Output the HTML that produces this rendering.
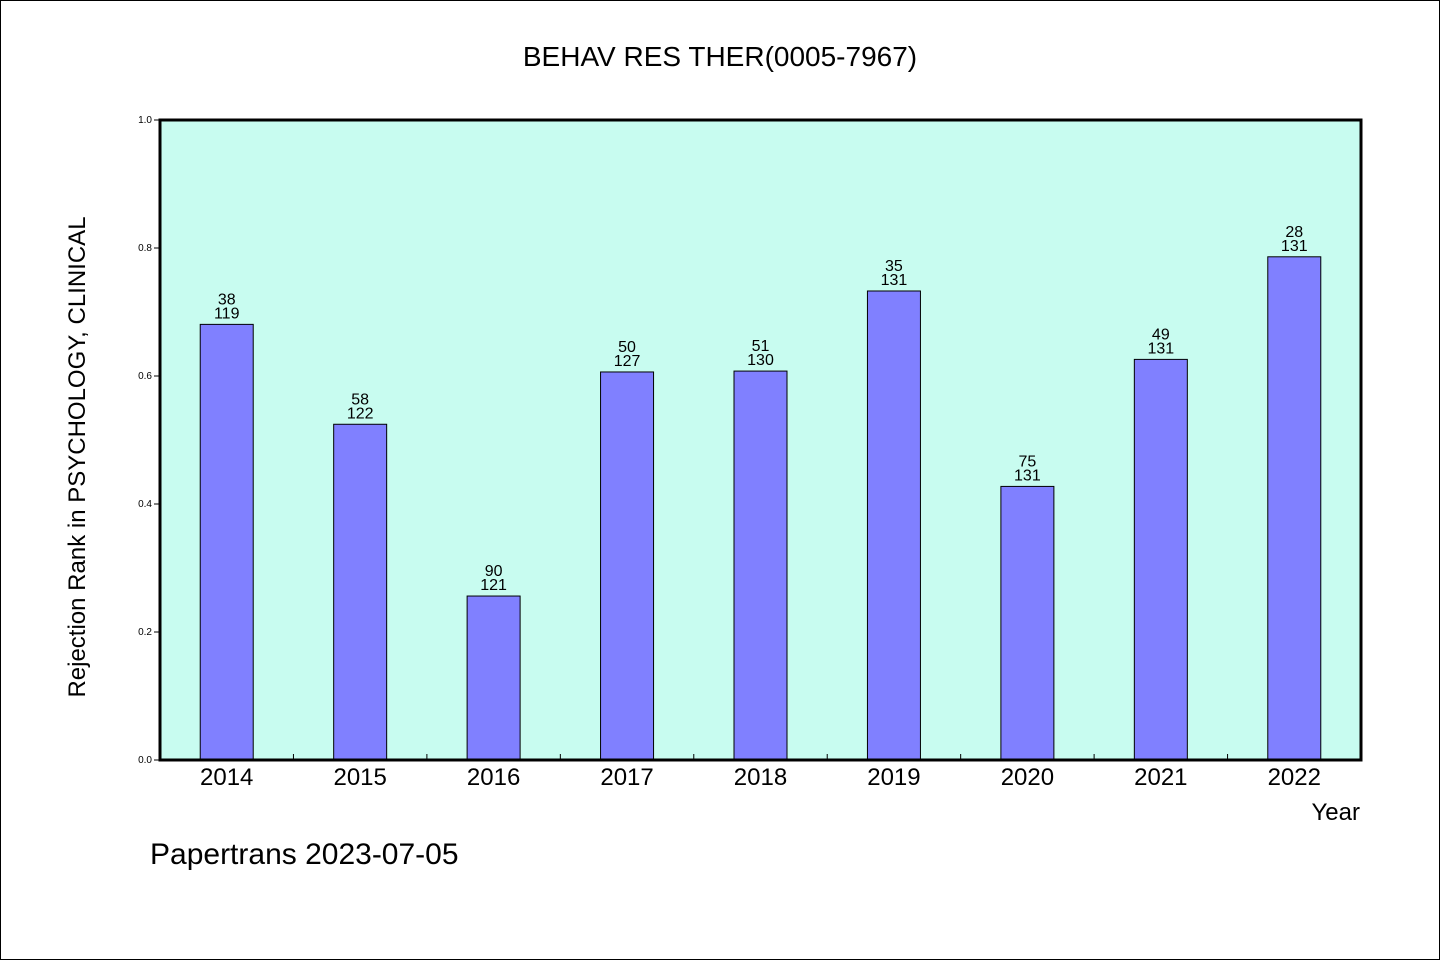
<!DOCTYPE html>
<html><head><meta charset="utf-8"><style>
body{margin:0;background:#fff}
svg{display:block}
text{font-family:"WenQuanYi Zen Hei","Liberation Sans",sans-serif;fill:#000}
</style></head><body>
<svg id="c" width="1440" height="960">
<rect x="0.5" y="0.5" width="1439" height="959" fill="#fff" stroke="#000"/>
<text x="720" y="66" text-anchor="middle" font-size="28">BEHAV RES THER(0005-7967)</text>
<rect x="160" y="120" width="1201" height="640" fill="#c8fcf0"/>
<g id="bars"></g>
<rect x="160" y="120" width="1201" height="640" fill="none" stroke="#000" stroke-width="3"/>
<text transform="translate(85,457) rotate(-90)" text-anchor="middle" font-size="24">Rejection Rank in PSYCHOLOGY, CLINICAL</text>
<text x="1360" y="820" text-anchor="end" font-size="24">Year</text>
<text x="150" y="864" font-size="30">Papertrans 2023-07-05</text>
</svg>
<script>
const years=["2014","2015","2016","2017","2018","2019","2020","2021","2022"];
const ranks=[38,58,90,50,51,35,75,49,28];
const totals=[119,122,121,127,130,131,131,131,131];
const yTicks=["0.0","0.2","0.4","0.6","0.8","1.0"];
const L=160,R=1361,T=120,B=760;
const band=(R-L)/years.length;
const xC=i=>L+band*(i+0.5);
const y=v=>B-(B-T)*v;
const ns="http://www.w3.org/2000/svg";
const svg=document.getElementById('c'),g=document.getElementById('bars');
function mk(t,a,p){const e=document.createElementNS(ns,t);for(const k in a)e.setAttribute(k,a[k]);(p||svg).appendChild(e);return e;}
yTicks.forEach(t=>{const v=parseFloat(t);
 const l=mk('line',{x1:L-6,x2:L,y1:y(v),y2:y(v),stroke:'#000'});
 
 
 const tx=mk('text',{x:L-8,y:y(v)+3,'text-anchor':'end','font-size':10});
 
 
 tx.textContent=t;});
years.forEach((yr,i)=>{
 const v=1-ranks[i]/totals[i];
 const r=mk('rect',{x:xC(i)-26.5,y:y(v),width:53,height:B-y(v),fill:'#8080ff',stroke:'#000','stroke-width':1},g);
 
 
 const t1=mk('text',{x:xC(i),y:y(v)-20,'text-anchor':'middle','font-size':16});
 
 
 t1.textContent=ranks[i];
 const t2=mk('text',{x:xC(i),y:y(v)-6,'text-anchor':'middle','font-size':16});
 
 
 t2.textContent=totals[i];
 const xl=mk('text',{x:xC(i),y:785,'text-anchor':'middle','font-size':24});
 
 
 xl.textContent=yr;
 if(i>0){const tk=mk('line',{x1:L+band*i,x2:L+band*i,y1:B,y2:B-6,stroke:'#000'});
 
 }
});
</script>
</body></html>
